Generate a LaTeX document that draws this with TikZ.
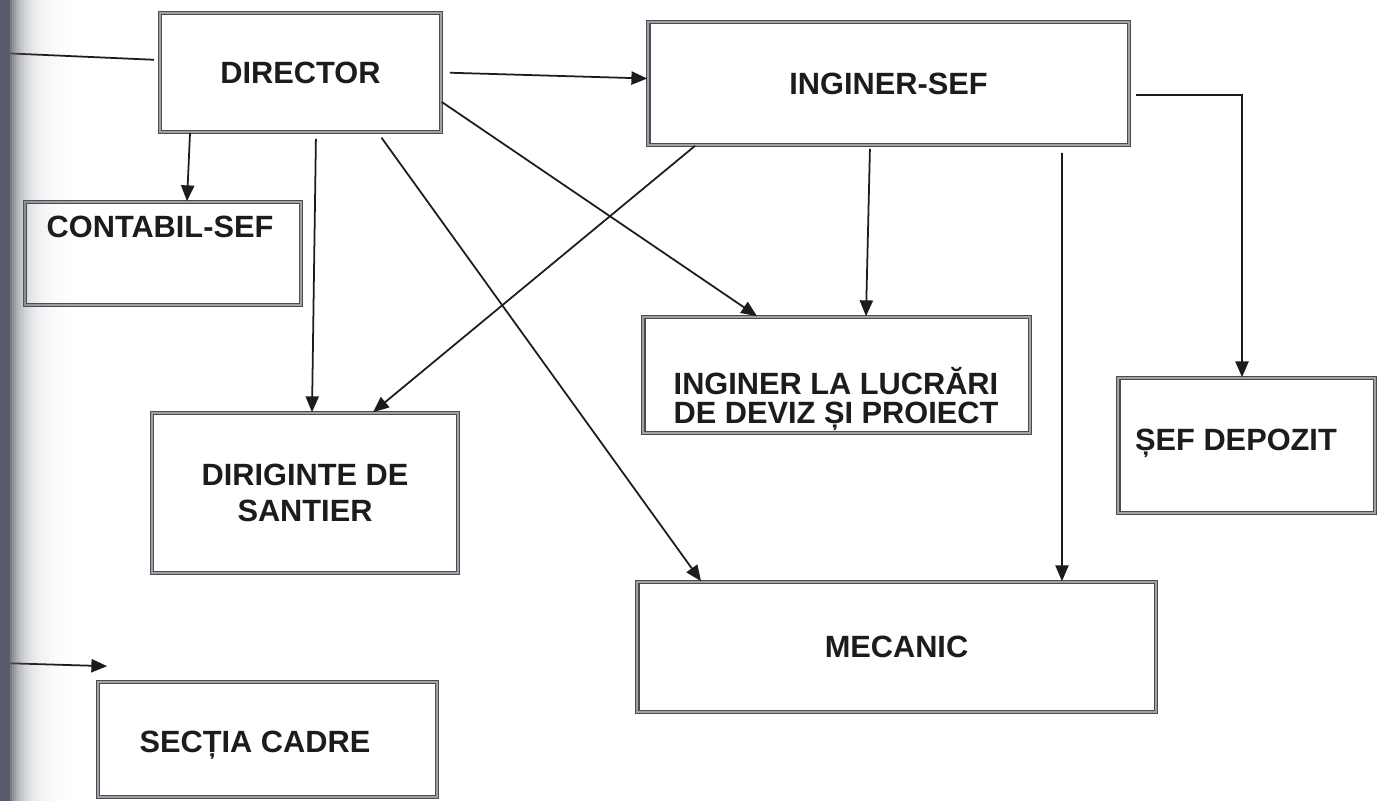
\documentclass[tikz,border=0pt]{standalone}
\usepackage{fontspec}
\setmainfont{Liberation Sans}
\usetikzlibrary{arrows.meta}
\definecolor{shadowc}{RGB}{88,92,106}
\definecolor{inkc}{RGB}{28,28,28}
\definecolor{framec}{RGB}{75,75,82}
\definecolor{framein}{RGB}{160,160,168}
\begin{document}
\begin{tikzpicture}[x=0.02cm,y=-0.02cm,
  box/.style={draw=framec, line width=0.95pt, double=framein, double distance=0.9pt, rectangle, inner sep=0pt},
  lbl/.style={font=\fontsize{17.5}{19}\selectfont\bfseries, text=inkc, align=center, inner sep=0pt},
  conn/.style={draw=inkc, line width=1pt, -{Triangle[length=9pt,width=7.5pt]}},
  plainline/.style={draw=inkc, line width=1pt}]
\fill[white] (0,0) rectangle (1385,801);
\useasboundingbox (0,0) rectangle (1385,801);

% boxes
\node[box, lbl, minimum width=5.62cm, minimum height=2.38cm] (director) at (300.5,72.5) {DIRECTOR};
\node[box, minimum width=5.52cm, minimum height=2.06cm] (contabil) at (163,253.5) {};
\node[lbl, anchor=base] (contabiltxt) at (160,237) {CONTABIL-SEF};
\node[box, lbl, minimum width=9.62cm, minimum height=2.46cm] (inginersef) at (888.5,83.5) {INGINER-SEF};
\node[box, minimum width=5.14cm, minimum height=2.70cm] (depozit) at (1246.5,445.5) {};
\node[lbl, anchor=base] (depozittxt) at (1236,450) {ȘEF DEPOZIT};
\node[box, minimum width=7.74cm, minimum height=2.32cm] (lucrari) at (836.5,375) {};
\node[lbl, font=\fontsize{17.5}{17}\selectfont\bfseries] (lucraritxt) at (836,399) {INGINER LA LUCRĂRI\\DE DEVIZ ȘI PROIECT};
\node[box, lbl, font=\fontsize{17.5}{20.5}\selectfont\bfseries, minimum width=6.12cm, minimum height=3.20cm] (diriginte) at (305,493) {DIRIGINTE DE\\SANTIER};
\node[box, lbl, minimum width=10.38cm, minimum height=2.60cm] (mecanic) at (896.5,647) {MECANIC};
\node[box, minimum width=6.78cm, minimum height=2.30cm] (sectia) at (267.5,739.5) {};
\node[lbl, anchor=base] (sectiatxt) at (255,752) {SECȚIA CADRE};

% free ends
\coordinate (lfree) at (0,53);
\coordinate (sfree) at (0,663);

% connectors
\draw[plainline, shorten >=0.1cm] (lfree) -- ([yshift=0.25cm]director.west);
\draw[conn] ([xshift=-2.21cm]director.south) -- ([xshift=0.48cm]contabil.north);
\draw[conn, shorten <=0.16cm] (director.east) -- ([yshift=0.1cm]inginersef.west);
\draw[conn] ([yshift=-0.59cm]director.east) -- ([xshift=-1.59cm]lucrari.north);
\draw[conn, shorten <=0.12cm] ([xshift=0.31cm]director.south) -- ([xshift=0.14cm]diriginte.north);
\draw[conn, shorten <=0.12cm] ([xshift=1.55cm]director.south) -- ([xshift=-3.91cm]mecanic.north);
\draw[conn] ([xshift=-3.87cm]inginersef.south) -- ([xshift=1.36cm]diriginte.north);
\draw[conn, shorten <=0.06cm] ([xshift=-0.37cm]inginersef.south) -- ([xshift=0.59cm]lucrari.north);
\draw[conn, shorten <=0.14cm] ([xshift=3.47cm]inginersef.south) -- ([xshift=3.31cm]mecanic.north);
\draw[conn, shorten <=0.12cm] ([yshift=-0.23cm]inginersef.east) -| ([xshift=-0.09cm]depozit.north);
\draw[conn] (sfree) -- ([shift={(0.2cm,0.3cm)}]sectia.north west);

% scan shadow on the left edge
\fill[shadowc] (0,0) rectangle (10,801);
\foreach \i in {0,...,29} {
  \pgfmathsetmacro{\op}{0.85*exp(-(2*\i+1)/13)}
  \fill[shadowc, fill opacity=\op] ({10+2*\i},0) rectangle ({12+2*\i},801);
}
\end{tikzpicture}
\end{document}
